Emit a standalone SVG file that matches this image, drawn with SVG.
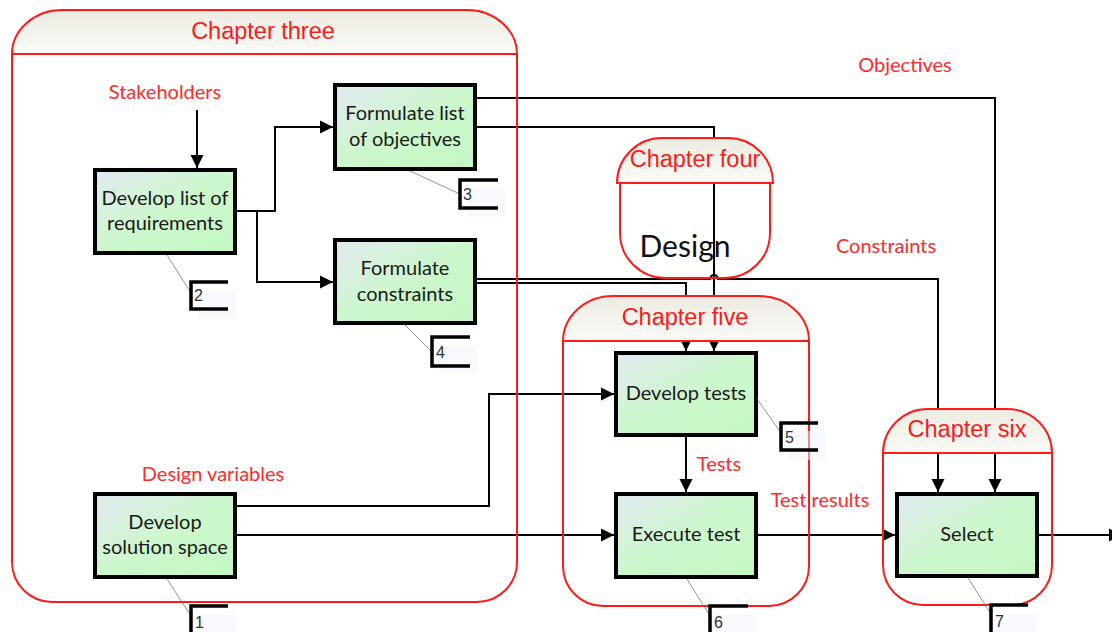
<svg xmlns="http://www.w3.org/2000/svg" width="1112" height="632" viewBox="0 0 1112 632">
<style>
.conn{fill:none;stroke:#000;stroke-width:2}
.box{stroke:#000;stroke-width:4;fill:url(#nodeFill)}
.ntext{font-family:Lato,"Open Sans",sans-serif;font-size:20px;fill:#1a1a1a;text-anchor:middle}
.lbl{font-family:Lato,"Open Sans",sans-serif;font-size:20px;fill:#ff2a2a;text-anchor:middle}
.ctitle{font-family:"Liberation Sans",Arial,sans-serif;font-size:23.5px;fill:#ff1a1a;text-anchor:middle}
.chead{fill:url(#headFill);stroke:#ff1a1a;stroke-width:2}
.cbody{fill:none;stroke:#ff1a1a;stroke-width:2}
.brk{fill:none;stroke:#000;stroke-width:3.5}
.brkbg{fill:#f1f4fb;opacity:0.5}
.lead{stroke:#777;stroke-width:0.8;fill:none}
.num{font-family:"Liberation Sans",Arial,sans-serif;font-size:16px;fill:#333}
</style>
<defs>
<linearGradient id="nodeFill" x1="0" y1="0" x2="1" y2="1">
<stop offset="0" stop-color="#e2eaf2"/>
<stop offset="0.5" stop-color="#cdf7cd"/>
<stop offset="1" stop-color="#c4f8c4"/>
</linearGradient>
<linearGradient id="headFill" x1="0" y1="0" x2="0" y2="1">
<stop offset="0" stop-color="#ececE2"/>
<stop offset="1" stop-color="#fbfbf8"/>
</linearGradient>
<marker id="arr" markerUnits="userSpaceOnUse" markerWidth="14" markerHeight="14" viewBox="0 0 14 14" refX="13" refY="7" orient="auto">
<path d="M0,0.5 L13,7 L0,13.5 Z" fill="#000"/>
</marker>
</defs>

<g id="connectors">
<path class="conn" d="M197,110 V168" marker-end="url(#arr)"/>
<path class="conn" d="M237,211 H275 V127 H333" marker-end="url(#arr)"/>
<path class="conn" d="M257,211 V282 H333" marker-end="url(#arr)"/>
<path class="conn" d="M477,98 H995 V492" marker-end="url(#arr)"/>
<path class="conn" d="M477,127 H714 V351" marker-end="url(#arr)"/>
<path class="conn" d="M477,283 H686 V351" marker-end="url(#arr)"/>
<path class="conn" d="M477,279 H710 A4,4 0 0 1 718,279 H938 V492" marker-end="url(#arr)"/>
<path class="conn" d="M237,506 H489 V394 H614" marker-end="url(#arr)"/>
<path class="conn" d="M237,535 H614" marker-end="url(#arr)"/>
<path class="conn" d="M686,437 V492" marker-end="url(#arr)"/>
<path class="conn" d="M758,535 H895" marker-end="url(#arr)"/>
<path class="conn" d="M1039,535 H1122" marker-end="url(#arr)"/>
</g>

<g id="chapter-three">
<path class="chead" d="M12,54 A50,44 0 0 1 62,10 H467 A50,44 0 0 1 517,54 Z"/>
<path class="cbody" d="M12,54 V562 A40,40 0 0 0 52,602 H477 A40,40 0 0 0 517,562 V54"/>
<text class="ctitle" x="263" y="39">Chapter three</text>
</g>
<g id="chapter-four">
<path class="chead" d="M617,183 A45,45 0 0 1 662,138 H728 A45,45 0 0 1 773,183 Z"/>
<path class="cbody" d="M620,183 V233 A45,45 0 0 0 665,278 H725 A45,45 0 0 0 770,233 V183"/>
<text class="ctitle" x="695" y="167">Chapter four</text>
<text x="685" y="257" font-family="Lato,'Open Sans',sans-serif" font-size="30" fill="#111" text-anchor="middle">Design</text>
</g>
<g id="chapter-five">
<path class="chead" d="M563,341 A50,45 0 0 1 613,296 H759 A50,45 0 0 1 809,341 Z"/>
<path class="cbody" d="M563,341 V566 A40,40 0 0 0 603,606 H769 A40,40 0 0 0 809,566 V341"/>
<text class="ctitle" x="685" y="325">Chapter five</text>
</g>
<g id="chapter-six">
<path class="chead" d="M883,453 A45,44 0 0 1 928,409 H1007 A45,44 0 0 1 1052,453 Z"/>
<path class="cbody" d="M883,453 V565 A40,40 0 0 0 923,605 H1012 A40,40 0 0 0 1052,565 V453"/>
<text class="ctitle" x="967" y="437">Chapter six</text>
</g>

<g id="labels">
<text class="lbl" x="165" y="99">Stakeholders</text>
<text class="lbl" x="905" y="72">Objectives</text>
<text class="lbl" x="886" y="253">Constraints</text>
<text class="lbl" x="213" y="481">Design variables</text>
<text class="lbl" x="719" y="471">Tests</text>
<text class="lbl" x="820" y="507">Test results</text>
</g>

<g id="node-requirements">
<rect class="box" x="95" y="170" width="140" height="83"/>
<text class="ntext" x="165" y="205">Develop list of</text>
<text class="ntext" x="165" y="230">requirements</text>
<line class="lead" x1="167" y1="255" x2="191" y2="293"/>
<rect class="brkbg" x="198" y="290" width="38" height="29"/>
<path class="brk" d="M228,282 H191 V309 H228"/>
<text class="num" x="194" y="301">2</text>
</g>
<g id="node-objectives">
<rect class="box" x="335" y="85" width="140" height="84"/>
<text class="ntext" x="405" y="120">Formulate list</text>
<text class="ntext" x="405" y="146">of objectives</text>
<line class="lead" x1="410" y1="171" x2="460" y2="194"/>
<rect class="brkbg" x="467" y="188" width="38" height="29"/>
<path class="brk" d="M498,180 H460 V208 H498"/>
<text class="num" x="463" y="200">3</text>
</g>
<g id="node-constraints">
<rect class="box" x="335" y="240" width="140" height="83"/>
<text class="ntext" x="405" y="275">Formulate</text>
<text class="ntext" x="405" y="301">constraints</text>
<line class="lead" x1="405" y1="325" x2="432" y2="352"/>
<rect class="brkbg" x="439" y="345" width="38" height="29"/>
<path class="brk" d="M470,337 H432 V366 H470"/>
<text class="num" x="436" y="358">4</text>
</g>
<g id="node-solution-space">
<rect class="box" x="95" y="494" width="140" height="83"/>
<text class="ntext" x="165" y="529">Develop</text>
<text class="ntext" x="165" y="554">solution space</text>
<line class="lead" x1="167" y1="579" x2="191" y2="616"/>
<rect class="brkbg" x="198" y="614" width="38" height="29"/>
<path class="brk" d="M228,606 H191 V634"/>
<text class="num" x="195" y="628">1</text>
</g>
<g id="node-develop-tests">
<rect class="box" x="616" y="353" width="140" height="82"/>
<text class="ntext" x="686" y="400">Develop tests</text>
<line class="lead" x1="757" y1="399" x2="781" y2="433"/>
<rect class="brkbg" x="788" y="431" width="38" height="29"/>
<path class="brk" d="M818,423 H781 V450 H818"/>
<text class="num" x="785" y="443">5</text>
</g>
<g id="node-execute-test">
<rect class="box" x="616" y="494" width="140" height="83"/>
<text class="ntext" x="686" y="541">Execute test</text>
<line class="lead" x1="687" y1="579" x2="710" y2="616"/>
<rect class="brkbg" x="717" y="614" width="38" height="29"/>
<path class="brk" d="M748,606 H710 V634"/>
<text class="num" x="714" y="628">6</text>
</g>
<g id="node-select">
<rect class="box" x="897" y="494" width="140" height="82"/>
<text class="ntext" x="967" y="541">Select</text>
<line class="lead" x1="968" y1="578" x2="991" y2="614"/>
<rect class="brkbg" x="998" y="613" width="38" height="29"/>
<path class="brk" d="M1028,605 H991 V634"/>
<text class="num" x="995" y="627">7</text>
</g>
</svg>
